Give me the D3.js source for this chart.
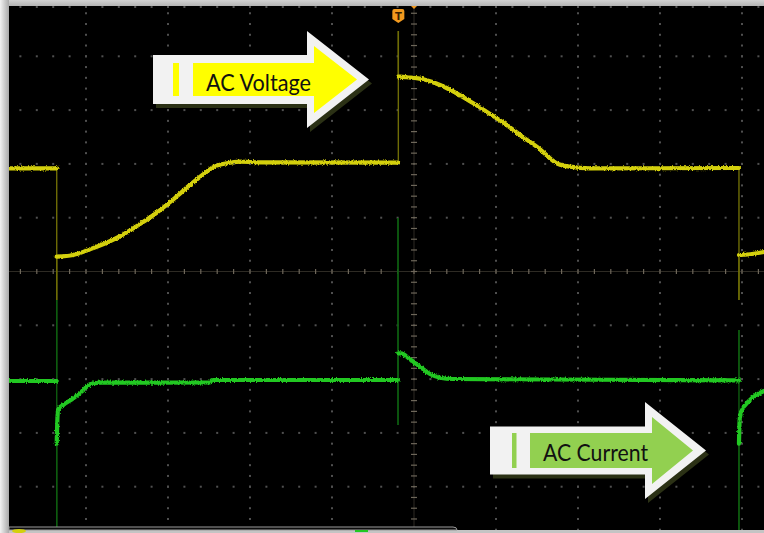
<!DOCTYPE html>
<html>
<head>
<meta charset="utf-8">
<script src="https://cdn.jsdelivr.net/npm/d3@7"></script>
<style>
  html, body { margin: 0; padding: 0; background: #000; }
  svg { display: block; }
</style>
</head>
<body>
<svg id="scope" width="764" height="533"></svg>
<script>
// Screen graticule: 10 horizontal x 8 vertical divisions, 5 minor steps each
const timeDivs = d3.range(-5, 6);      // major vertical lines (time, div)
const levelDivs = d3.range(-4, 5);     // major horizontal lines (level, div)
const minorStep = 0.2;

// Channel 1: AC voltage, [time div, level div]
const voltageTrace = [
  [-4.94, 1.915], [-4.357, 1.915], [-4.357, -0.53], [-4.357, 0.275],
  [-4.155, 0.307], [-3.951, 0.413], [-3.748, 0.535], [-3.545, 0.691],
  [-3.341, 0.883], [-3.138, 1.093], [-2.935, 1.342], [-2.732, 1.608],
  [-2.528, 1.855], [-2.451, 1.937], [-2.284, 2.011], [-2.122, 2.041],
  [-1.878, 2.030], [-0.191, 2.022], [-0.191, 4.47], [-0.191, 3.621],
  [-0.165, 3.621], [-0.089, 3.610], [0.113, 3.572], [0.317, 3.467],
  [0.521, 3.312], [0.723, 3.126], [0.927, 2.928], [1.130, 2.723],
  [1.333, 2.494], [1.537, 2.271], [1.659, 2.104], [1.740, 2.011],
  [1.902, 1.948], [2.146, 1.918], [3.963, 1.924], [3.963, -0.53],
  [3.963, 0.307], [3.982, 0.307], [4.268, 0.362]
];

// Channel 2: AC current, [time div, level div]
const currentTrace = [
  [-4.94, -2.035], [-4.357, -2.035], [-4.357, -0.53], [-4.357, -4.95],
  [-4.357, -3.2], [-4.349, -2.75], [-4.338, -2.556], [-4.277, -2.481],
  [-4.155, -2.357], [-4.033, -2.203], [-3.951, -2.097], [-3.829, -2.067],
  [-2.488, -2.063], [-2.463, -2.017], [-0.195, -2.017], [-0.195, 0.994],
  [-0.195, -2.853], [-0.195, -1.520],
  [-0.159, -1.520], [-0.049, -1.632], [0.073, -1.770], [0.195, -1.905],
  [0.317, -1.974], [0.479, -1.998], [1.659, -2.007], [3.963, -2.026],
  [3.963, -1.087], [3.963, -4.99], [3.963, -3.2],
  [3.972, -2.75], [3.988, -2.612], [4.098, -2.388], [4.268, -2.221]
];

const channelNames = ["AC Voltage", "AC Current"];
const channelColors = ["#d4d00c", "#22c822"];
const edgeColors = ["#6f6d06", "#0e5c10"];
const arrowFills = ["#ffff00", "#92d050"];

const svg = d3.select("#scope");
const W = 764, H = 533;

const x = d3.scaleLinear().domain([-5, 5]).range([4, 824]);
const y = d3.scaleLinear().domain([-4, 4]).range([486.7, 56.3]);

const defs = svg.append("defs");

// bezel gradients
const lg = defs.append("linearGradient").attr("id", "bezelLeft").attr("x1", 0).attr("x2", 1).attr("y1", 0).attr("y2", 0);
lg.append("stop").attr("offset", 0).attr("stop-color", "#f2f2f2");
lg.append("stop").attr("offset", 1).attr("stop-color", "#a9a9a9");
const tg = defs.append("linearGradient").attr("id", "bezelTop").attr("x1", 0).attr("x2", 0).attr("y1", 0).attr("y2", 1);
tg.append("stop").attr("offset", 0).attr("stop-color", "#d2d2d2");
tg.append("stop").attr("offset", 1).attr("stop-color", "#b4b4b4");

// phosphor fuzz on the slow parts of the traces
const f = defs.append("filter").attr("id", "phosphor")
  .attr("filterUnits", "userSpaceOnUse").attr("x", 0).attr("y", 0).attr("width", W).attr("height", H);
f.append("feTurbulence").attr("type", "fractalNoise").attr("baseFrequency", "1.4 0.6").attr("numOctaves", 2).attr("seed", 7).attr("result", "n");
f.append("feDisplacementMap").attr("in", "SourceGraphic").attr("in2", "n").attr("scale", 3.2).attr("xChannelSelector", "R").attr("yChannelSelector", "G").attr("result", "d");
f.append("feGaussianBlur").attr("in", "d").attr("stdDeviation", 0.55);

// screen
svg.append("rect").attr("width", W).attr("height", H).attr("fill", "#000");

const screen = svg.append("g");

// graticule dots on major lines
const grid = screen.append("g").attr("fill", "#505050");
const minorT = d3.range(-5, 5.0001, minorStep);
const minorV = d3.range(-5, 5.0001, minorStep);
timeDivs.filter(t => t !== 0).forEach(t => {
  grid.selectAll(null).data(minorV).join("rect")
    .attr("x", x(t) - 1).attr("y", d => y(d) - 1)
    .attr("width", 2).attr("height", 2);
});
levelDivs.filter(v => v !== 0).forEach(v => {
  grid.selectAll(null).data(minorT).join("rect")
    .attr("x", d => x(d) - 1).attr("y", y(v) - 1)
    .attr("width", 2).attr("height", 2);
});
// dots along the top edge of the screen
grid.selectAll(null).data(minorT).join("rect")
  .attr("x", d => x(d) - 1).attr("y", 6).attr("width", 2).attr("height", 2);

// centre cross with minor ticks
const axes = screen.append("g");
axes.append("line").attr("x1", x(0)).attr("x2", x(0)).attr("y1", 6).attr("y2", 527)
  .attr("stroke", "#2e2b24").attr("stroke-width", 1);
axes.append("line").attr("x1", 9).attr("x2", W).attr("y1", y(0)).attr("y2", y(0))
  .attr("stroke", "#2e2b24").attr("stroke-width", 1);
axes.selectAll(null).data(minorV).join("line")
  .attr("x1", x(0) - 3).attr("x2", x(0) + 3)
  .attr("y1", d => y(d)).attr("y2", d => y(d))
  .attr("stroke", "#6e675a").attr("stroke-width", 1.2);
axes.selectAll(null).data(minorT).join("line")
  .attr("x1", d => x(d)).attr("x2", d => x(d))
  .attr("y1", y(0) - 2.5).attr("y2", y(0) + 2.5)
  .attr("stroke", "#6e675a").attr("stroke-width", 1.2);

// traces: fast vertical edges dim and thin, slow parts bright and thick
const edgeLine = d3.line().x(d => x(d[0])).y(d => y(d[1]));
const bodyLine = d3.line().x(d => x(d[0])).y(d => y(d[1])).curve(d3.curveMonotoneX);

function drawTrace(points, ci) {
  const g = screen.append("g");
  const runs = [];
  let run = [points[0]];
  for (let i = 1; i < points.length; i++) {
    const a = points[i - 1], b = points[i];
    if (a[0] === b[0]) {
      g.append("path").attr("d", edgeLine([a, b]))
        .attr("stroke", edgeColors[ci]).attr("stroke-width", 1.4).attr("fill", "none");
      if (run.length > 1) runs.push(run);
      run = [b];
    } else {
      run.push(b);
    }
  }
  if (run.length > 1) runs.push(run);
  const body = g.append("g").attr("filter", "url(#phosphor)");
  runs.forEach(r => {
    body.append("path").attr("d", bodyLine(r))
      .attr("stroke", channelColors[ci]).attr("stroke-width", 4.2)
      .attr("fill", "none").attr("stroke-linejoin", "round").attr("stroke-linecap", "round");
  });
}
drawTrace(voltageTrace, 0);
drawTrace(currentTrace, 1);

// trigger markers
const tx = x(-0.191);
const trig = svg.append("g");
trig.append("path")
  .attr("d", `M${tx - 6},11 Q${tx - 6},9 ${tx - 4},9 H${tx + 4} Q${tx + 6},9 ${tx + 6},11 V19 L${tx},23 L${tx - 6},19 Z`)
  .attr("fill", "#f39a1e");
trig.append("text").attr("x", tx).attr("y", 20)
  .attr("text-anchor", "middle").attr("font-family", "DejaVu Sans, sans-serif")
  .attr("font-weight", "bold").attr("font-size", 10).attr("fill", "#3a2000").text("T");
trig.append("path")
  .attr("d", `M${x(0) - 3},6 L${x(0) + 3},6 L${x(0)},9 Z`).attr("fill", "#f39a1e");

// callout arrows
function arrow(cfg, ci) {
  const g = svg.append("g");
  const outer = (dx, dy) => {
    const c = cfg.cy + dy;
    return `M${cfg.x0 + dx},${c - cfg.bh} H${cfg.hx + dx} V${c - cfg.hh} L${cfg.tip + dx},${c} L${cfg.hx + dx},${c + cfg.hh} V${c + cfg.bh} H${cfg.x0 + dx} Z`;
  };
  g.append("path").attr("d", outer(3, 4)).attr("fill", "#2b3115");
  g.append("path").attr("d", outer(0, 0)).attr("fill", "#f2f2f2");
  const c = cfg.cy;
  g.append("path")
    .attr("d", `M${cfg.ix0},${c - cfg.ibh} H${cfg.ihx} V${c - cfg.ihh} L${cfg.itip},${c} L${cfg.ihx},${c + cfg.ihh} V${c + cfg.ibh} H${cfg.ix0} Z`)
    .attr("fill", arrowFills[ci]);
  g.append("rect").attr("x", cfg.barX).attr("y", c - cfg.ibh)
    .attr("width", cfg.barW).attr("height", cfg.ibh * 2).attr("fill", arrowFills[ci]);
  g.append("text").attr("x", cfg.tx).attr("y", cfg.ty)
    .attr("font-family", "Lato, 'Open Sans', sans-serif").attr("font-size", 23)
    .attr("textLength", cfg.tw).attr("lengthAdjust", "spacingAndGlyphs")
    .attr("fill", "#111").text(channelNames[ci]);
}
arrow({ x0: 153, cy: 79.5, bh: 24.5, hx: 307, hh: 48.5, tip: 369,
        ix0: 193, ibh: 16.5, ihx: 314, ihh: 33.5, itip: 357,
        barX: 173, barW: 6, tx: 206, ty: 91, tw: 105 }, 0);
arrow({ x0: 490, cy: 450.5, bh: 24, hx: 645, hh: 48.5, tip: 706,
        ix0: 530, ibh: 17.5, ihx: 652, ihh: 33.5, itip: 693,
        barX: 512, barW: 4.5, tx: 543, ty: 461, tw: 105 }, 1);

// bezel
svg.append("rect").attr("x", 0).attr("y", 0).attr("width", W).attr("height", 6).attr("fill", "url(#bezelTop)");
svg.append("rect").attr("x", 0).attr("y", 0).attr("width", 9).attr("height", H).attr("fill", "url(#bezelLeft)");
svg.append("rect").attr("x", 9).attr("y", 530).attr("width", W - 9).attr("height", 3).attr("fill", "#c4c4c4");
svg.append("path").attr("d", "M9,530 V527 H453 Q457,527 457,530 Z")
  .attr("fill", "#0c0c0c").attr("stroke", "#9a9a9a").attr("stroke-width", 1);
svg.append("ellipse").attr("cx", 19).attr("cy", 531).attr("rx", 7).attr("ry", 2).attr("fill", channelColors[0]);
svg.append("rect").attr("x", 355).attr("y", 530).attr("width", 13).attr("height", 2).attr("fill", channelColors[1]);
</script>
</body>
</html>
